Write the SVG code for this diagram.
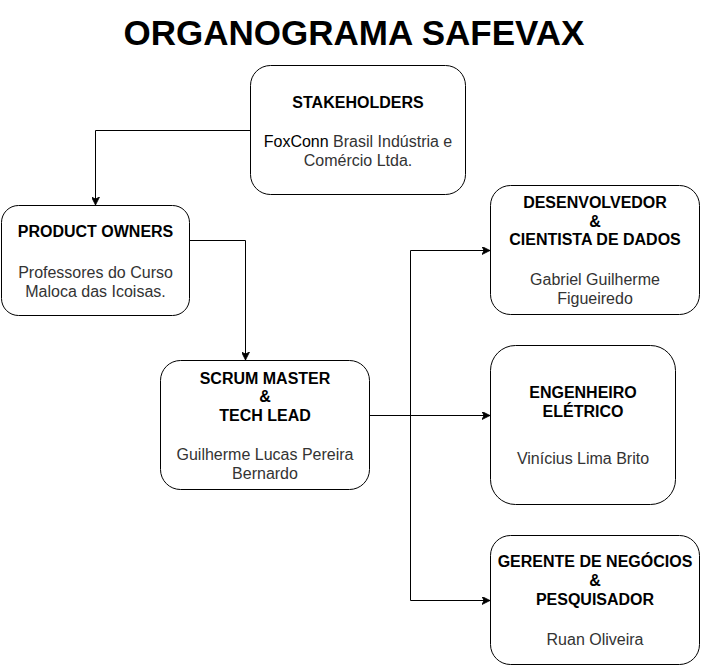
<svg xmlns="http://www.w3.org/2000/svg" width="701" height="666" viewBox="0 0 701 666">
<defs>
<style>
.box{fill:#fff;stroke:#000;stroke-width:1}
.edge{fill:none;stroke:#000;stroke-width:1}
text{font-family:"Liberation Sans",Arial,sans-serif;text-anchor:middle}
.h{font-size:16px;font-weight:bold;fill:#000}
.t{font-size:16px;fill:#333}
.title{font-size:35px;font-weight:bold;fill:#000}
</style>
<marker id="arr" viewBox="0 0 10 10" refX="10" refY="5" markerWidth="8" markerHeight="8" markerUnits="userSpaceOnUse" orient="auto">
<path d="M0,0 L10,5 L0,10 L2.5,5 Z" fill="#000" stroke="#000" stroke-width="1"/>
</marker>
</defs>
<rect width="701" height="666" fill="#fff"/>
<text class="title" x="354" y="45">ORGANOGRAMA SAFEVAX</text>
<g id="connectors">
<path class="edge" d="M250,130.5 H95.5 V205" marker-end="url(#arr)"/>
<path class="edge" d="M190,240.5 H245.5 V360" marker-end="url(#arr)"/>
<path class="edge" d="M370,415.5 H490" marker-end="url(#arr)"/>
<path class="edge" d="M410.5,415.5 V250.5 H490" marker-end="url(#arr)"/>
<path class="edge" d="M410.5,415.5 V600.5 H490" marker-end="url(#arr)"/>
</g>
<g id="stakeholders">
<rect class="box" x="250.5" y="65.5" width="215" height="129" rx="20"/>
<text class="h" x="358" y="108">STAKEHOLDERS</text>
<text class="t" x="358" y="147"><tspan fill="#000">FoxConn</tspan> Brasil Indústria e</text>
<text class="t" x="358" y="165.5">Comércio Ltda.</text>
</g>
<g id="product-owners">
<rect class="box" x="1.5" y="205.5" width="188" height="110" rx="17"/>
<text class="h" x="95.5" y="237">PRODUCT OWNERS</text>
<text class="t" x="95.5" y="278">Professores do Curso</text>
<text class="t" x="95.5" y="296.5">Maloca das Icoisas.</text>
</g>
<g id="scrum-master">
<rect class="box" x="160.5" y="360.5" width="209" height="129" rx="20"/>
<text class="h" x="265" y="383.5">SCRUM MASTER</text>
<text class="h" x="265" y="402">&amp;</text>
<text class="h" x="265" y="420.5">TECH LEAD</text>
<text class="t" x="265" y="460">Guilherme Lucas Pereira</text>
<text class="t" x="265" y="478.5">Bernardo</text>
</g>
<g id="desenvolvedor">
<rect class="box" x="490.5" y="185.5" width="209" height="129" rx="20"/>
<text class="h" x="595" y="208">DESENVOLVEDOR</text>
<text class="h" x="595" y="226.5">&amp;</text>
<text class="h" x="595" y="245">CIENTISTA DE DADOS</text>
<text class="t" x="595" y="285">Gabriel Guilherme</text>
<text class="t" x="595" y="303.5">Figueiredo</text>
</g>
<g id="engenheiro">
<rect class="box" x="490.5" y="345.5" width="185" height="159" rx="25"/>
<text class="h" x="583" y="398">ENGENHEIRO</text>
<text class="h" x="583" y="416.5">ELÉTRICO</text>
<text class="t" x="583" y="463.5">Vinícius Lima Brito</text>
</g>
<g id="gerente">
<rect class="box" x="490.5" y="535.5" width="209" height="129" rx="20"/>
<text class="h" x="595" y="567">GERENTE DE NEGÓCIOS</text>
<text class="h" x="595" y="585.5">&amp;</text>
<text class="h" x="595" y="605">PESQUISADOR</text>
<text class="t" x="595" y="645">Ruan Oliveira</text>
</g>
</svg>
